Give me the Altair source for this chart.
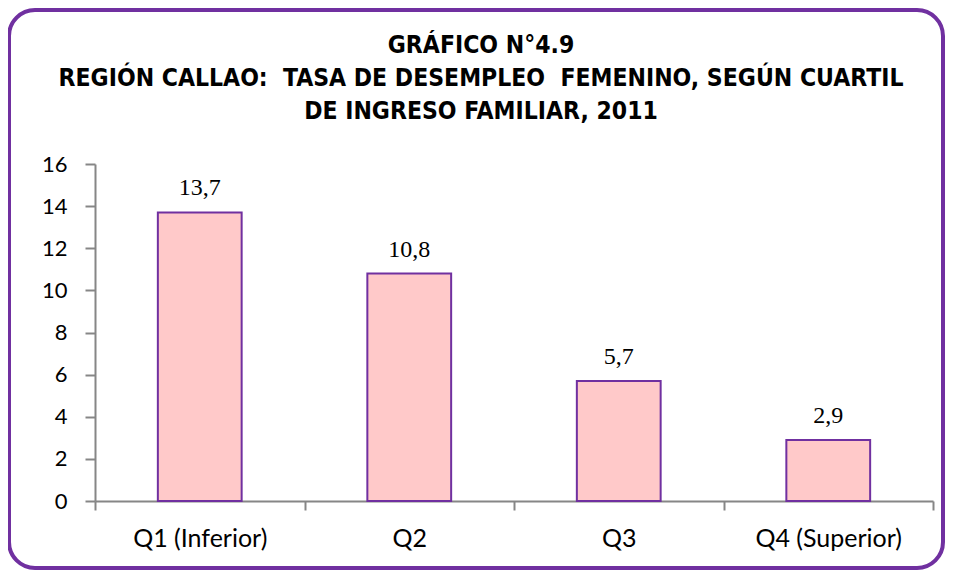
import altair as alt
import pandas as pd

categories = ["Q1 (Inferior)", "Q2", "Q3", "Q4 (Superior)"]
values = [13.7, 10.8, 5.7, 2.9]
y_ticks = [0, 2, 4, 6, 8, 10, 12, 14, 16]
title_lines = [
    "GRÁFICO N°4.9",
    "REGIÓN CALLAO:\u00a0 TASA DE DESEMPLEO\u00a0 FEMENINO, SEGÚN CUARTIL",
    "DE INGRESO FAMILIAR, 2011",
]

df = pd.DataFrame({"cat": categories, "val": values})

W, H = 838, 337
PURPLE = "#7030A0"
GREY = "#868686"

x_enc = alt.X(
    "cat:N",
    sort=categories,
    scale=alt.Scale(paddingInner=0, paddingOuter=0),
    axis=alt.Axis(
        title=None, labelAngle=0, tickBand="extent", tickSize=9,
        tickColor=GREY, domainColor=GREY, domainWidth=2, tickWidth=2,
        labelFont="Lato", labelFontSize=25, labelColor="black",
        labelPadding=16,
    ),
)
y_enc = alt.Y(
    "val:Q",
    scale=alt.Scale(domain=[0, 16], nice=False),
    axis=alt.Axis(
        title=None, values=y_ticks, grid=False, tickSize=10,
        tickColor=GREY, domainColor=GREY, domainWidth=2, tickWidth=2,
        labelFont="Lato", labelFontSize=22, labelColor="black",
        labelPadding=18,
    ),
)

base = alt.Chart(df)

bars = base.mark_bar(
    width={"band": 0.4}, fill="#FFC9C9", stroke=PURPLE, strokeWidth=2
).encode(x=x_enc, y=y_enc)

labels = base.transform_calculate(
    lbl="replace(format(datum.val, '.1f'), '.', ',')"
).mark_text(
    font="Liberation Serif", fontSize=24, baseline="alphabetic", dy=-17, color="black"
).encode(x=alt.X("cat:N", sort=categories), y="val:Q", text="lbl:N")

one = pd.DataFrame({"k": [0]})

frame = alt.Chart(one).mark_rect(
    fill="transparent", stroke=PURPLE, strokeWidth=4, cornerRadius=26, clip=False
).encode(
    x=alt.value(-86), x2=alt.value(848), y=alt.value(-154), y2=alt.value(404)
)

title = alt.Chart(one).mark_text(
    font="Liberation Sans Narrow, DejaVu Sans Condensed, Lato",
    fontWeight="bold", fontSize=24.5, lineHeight=33, align="center",
    baseline="alphabetic", color="black", clip=False,
).encode(x=alt.value(386), y=alt.value(-111), text=alt.value(title_lines))

chart = alt.layer(frame, title, bars, labels).properties(
    width=W,
    height=H,
    padding={"left": 87, "top": 156, "right": 13, "bottom": 69},
    autosize=alt.AutoSizeParams(type="none"),
).configure_view(strokeWidth=0)

chart.save("out.html", embed_options={"renderer": "svg", "actions": False})
